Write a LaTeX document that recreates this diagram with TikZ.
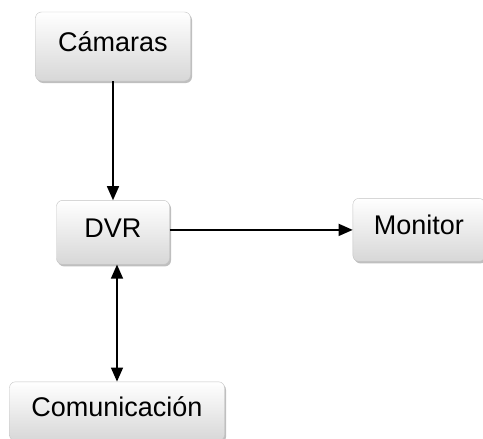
\documentclass[tikz,border=0pt]{standalone}
\usepackage{fontspec}
\setmainfont{Liberation Sans}
\usepackage{tikz}
\usetikzlibrary{arrows.meta, positioning, shadows}

\begin{document}
\begin{tikzpicture}[x=1pt, y=1pt,
    box/.style={rectangle, rounded corners=6pt, draw=boxline, top color=white, bottom color=boxfill,
      drop shadow={shadow xshift=1.5pt, shadow yshift=-2pt, fill=black, opacity=0.25},
      inner sep=0pt, text height=19pt, text depth=9pt, align=center, font=\fontsize{27}{31}\selectfont},
    link/.style={line width=1.4pt, -{Triangle[length=14pt, width=12pt]}}]
  % Define colors for the boxes
  \definecolor{boxline}{RGB}{195,195,195}   % Light gray border
  \definecolor{boxfill}{RGB}{215,215,215}   % Gray gradient end

  % Fix the page size
  \useasboundingbox (0,0) rectangle (483,-439);

  % Blocks of the system
  \node[box, minimum width=155pt, minimum height=69pt] (cam) at (113,-46.5) {Cámaras};
  \node[box, minimum width=113pt, minimum height=64pt, below=119pt of cam] (dvr) {DVR};
  \node[box, minimum width=132pt, minimum height=63pt, right=183pt of dvr, yshift=2.5pt] (mon) {Monitor};
  \node[box, minimum width=215pt, minimum height=59pt, below=117pt of dvr, xshift=4pt] (com) {Comunicación};

  % Arrows between blocks
  \draw[link] (cam.south) -- (dvr.north);
  \draw[link] (dvr.east |- mon.west) -- (mon.west);
  \draw[link, {Triangle[length=14pt, width=12pt]}-{Triangle[length=14pt, width=12pt]}] (com.north |- dvr.south) -- (com.north);
\end{tikzpicture}
\end{document}
